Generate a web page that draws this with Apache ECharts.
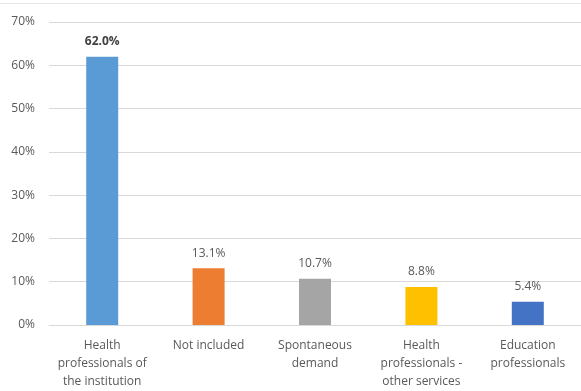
<!DOCTYPE html>
<html><head><meta charset="utf-8">
<script src="https://cdn.jsdelivr.net/npm/echarts@6/dist/echarts.min.js"></script>
<style>html,body{margin:0;padding:0;background:#fff}#c{width:581px;height:391px}</style>
</head><body><div id="c"></div>
<script>
const categories = ["Health\nprofessionals of\nthe institution", "Not included", "Spontaneous\ndemand", "Health\nprofessionals -\nother services", "Education\nprofessionals"];
const values = [62.0, 13.1, 10.7, 8.8, 5.4];
const colors = ["#5B9BD5", "#ED7D31", "#A5A5A5", "#FFC000", "#4472C4"];
const yTicks = [0, 10, 20, 30, 40, 50, 60, 70];

const chart = echarts.init(document.getElementById('c'));
const font = "'Open Sans', 'Liberation Sans', sans-serif";
chart.setOption({
  animation: false,
  graphic: [{type:'line', shape:{x1:0,y1:3.5,x2:581,y2:3.5}, style:{stroke:'#E6E6E6', lineWidth:1}}],
  grid: {left: 49, right: 0, top: 22, bottom: 65},
  xAxis: {
    type: 'category', data: categories,
    axisLine: {lineStyle: {color: '#D9D9D9'}},
    axisTick: {show: false},
    axisLabel: {color: '#595959', fontSize: 12, fontFamily: font, lineHeight: 18, margin: 12, interval: 0}
  },
  yAxis: {
    type: 'value', min: 0, max: 70, interval: 10,
    axisLabel: {color: '#595959', fontSize: 12, fontFamily: font, margin: 14, formatter: v => v + '%'},
    splitLine: {lineStyle: {color: '#D9D9D9'}},
    axisLine: {show: false}, axisTick: {show: false}
  },
  series: [{
    type: 'bar', barWidth: 32,
    data: values.map((v, i) => ({value: v, itemStyle: {color: colors[i]},
      label: i === 0 ? {fontWeight: 'bold', color: '#404040'} : {}})),
    label: {show: true, position: 'top', distance: 9, color: '#595959', fontSize: 12, fontFamily: font,
      formatter: p => p.value.toFixed(1) + '%'}
  }]
});
</script></body></html>
